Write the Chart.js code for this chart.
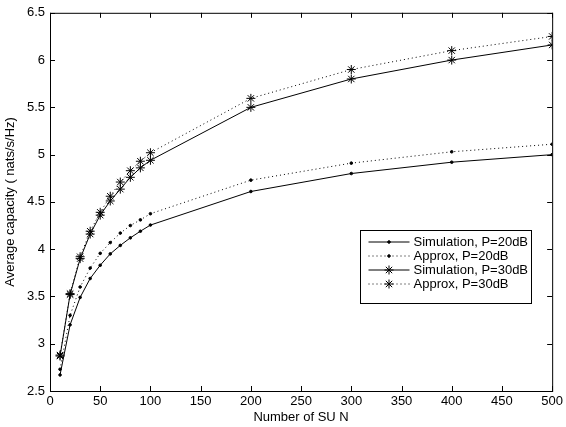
<!DOCTYPE html>
<html><head><meta charset="utf-8">
<script src="https://cdn.jsdelivr.net/npm/chart.js@4.4.0/dist/chart.umd.min.js"></script>
<style>html,body{margin:0;padding:0;background:#fff}#wrap{width:566px;height:427px}</style>
</head><body><div id="wrap"><canvas id="c" width="566" height="427"></canvas></div>
<script>
const nValues = [10,20,30,40,50,60,70,80,90,100,200,300,400,500];
const sim20 = [2.67,3.20,3.49,3.69,3.83,3.95,4.04,4.12,4.19,4.255,4.61,4.80,4.92,5.00];
const approx20 = [2.73,3.30,3.60,3.80,3.956,4.07,4.17,4.25,4.31,4.375,4.73,4.91,5.03,5.11];
const sim30 = [2.87,3.52,3.90,4.16,4.36,4.51,4.635,4.76,4.86,4.94,5.50,5.80,6.00,6.16];
const approx30 = [2.88,3.53,3.92,4.19,4.39,4.56,4.71,4.83,4.93,5.02,5.595,5.90,6.10,6.25];
const seriesLabels = ['Simulation, P=20dB','Approx, P=20dB','Simulation, P=30dB','Approx, P=30dB'];
const xTicks = [0,50,100,150,200,250,300,350,400,450,500];
const yTicks = [2.5,3,3.5,4,4.5,5,5.5,6,6.5];

const FONT = 'Liberation Sans, Arial, Helvetica, sans-serif';
function pts(ys){ return nValues.map((x,i)=>({x:x,y:ys[i]})); }
const styles = [
  {dash:[], ps:'circle', r:1.3},
  {dash:[1,3], ps:'circle', r:1.3},
  {dash:[], ps:'star', r:4.5},
  {dash:[1,3], ps:'star', r:4.5}
];
const allSeries = [sim20, approx20, sim30, approx30];
const datasets = allSeries.map((s,i)=>({
  label: seriesLabels[i], data: pts(s),
  borderColor:'#000', backgroundColor:'#000', borderWidth:1,
  borderDash: styles[i].dash, pointStyle: styles[i].ps, pointRadius: styles[i].r,
  pointBorderWidth:1, pointBorderColor:'#000', pointBackgroundColor:'#000', tension:0
}));

const framePlugin = {
  id:'frame',
  afterDraw(chart){
    const ctx = chart.ctx, a = chart.chartArea, xs = chart.scales.x, ys = chart.scales.y;
    ctx.save();
    ctx.strokeStyle='#000'; ctx.lineWidth=1; ctx.setLineDash([]);
    ctx.strokeRect(a.left+0.5, a.top+0.5, a.right-a.left, a.bottom-a.top);
    const tl = 5;
    ctx.beginPath();
    xTicks.forEach(v=>{ const px = Math.round(xs.getPixelForValue(v))+0.5;
      ctx.moveTo(px,a.bottom); ctx.lineTo(px,a.bottom-tl);
      ctx.moveTo(px,a.top); ctx.lineTo(px,a.top+tl); });
    yTicks.forEach(v=>{ const py = Math.round(ys.getPixelForValue(v))+0.5;
      ctx.moveTo(a.left,py); ctx.lineTo(a.left+tl,py);
      ctx.moveTo(a.right,py); ctx.lineTo(a.right-tl,py); });
    ctx.stroke();
    // legend
    const bx=360.5, by=230.5, bw=171, bh=73;
    ctx.fillStyle='#fff'; ctx.fillRect(bx,by,bw,bh);
    ctx.strokeRect(bx,by,bw,bh);
    ctx.font = '13px '+FONT; ctx.textBaseline='middle'; ctx.fillStyle='#000';
    chart.data.datasets.forEach((d,i)=>{
      const y = by + 11.5 + i*14;
      ctx.setLineDash(d.borderDash); ctx.beginPath();
      ctx.moveTo(bx+8,y); ctx.lineTo(bx+49,y); ctx.stroke();
      ctx.setLineDash([]);
      Chart.helpers.drawPoint(ctx,{pointStyle:d.pointStyle, radius:d.pointRadius, borderWidth:1}, bx+28.5, y);
      ctx.fillText(d.label, bx+53, y+0.5);
    });
    ctx.restore();
  }
};

new Chart(document.getElementById('c'), {
  type:'line',
  data:{datasets},
  options:{
    responsive:false, animation:false, devicePixelRatio:1,
    layout:{padding:{left:0,top:12,right:10,bottom:0}},
    plugins:{legend:{display:false}, tooltip:{enabled:false}},
    scales:{
      x:{type:'linear', min:0, max:500,
        afterBuildTicks(s){ s.ticks = xTicks.map(v=>({value:v})); },
        afterFit(s){ s.height = 36; },
        grid:{display:false, drawTicks:false}, border:{display:false},
        ticks:{color:'#000', font:{family:FONT,size:13}, padding:3, maxRotation:0},
        title:{display:true, text:'Number of SU N', color:'#000', font:{family:FONT,size:13}, padding:{top:0,bottom:2}}
      },
      y:{type:'linear', min:2.5, max:6.5,
        afterBuildTicks(s){ s.ticks = yTicks.map(v=>({value:v})); },
        afterFit(s){ s.width = 50; },
        grid:{display:false, drawTicks:false}, border:{display:false},
        ticks:{color:'#000', font:{family:FONT,size:13}, padding:5, callback:v=>String(v)},
        title:{display:true, text:'Average capacity ( nats/s/Hz)', color:'#000', font:{family:FONT,size:13}, padding:{top:3,bottom:0}}
      }
    }
  },
  plugins:[framePlugin]
});
</script></body></html>
